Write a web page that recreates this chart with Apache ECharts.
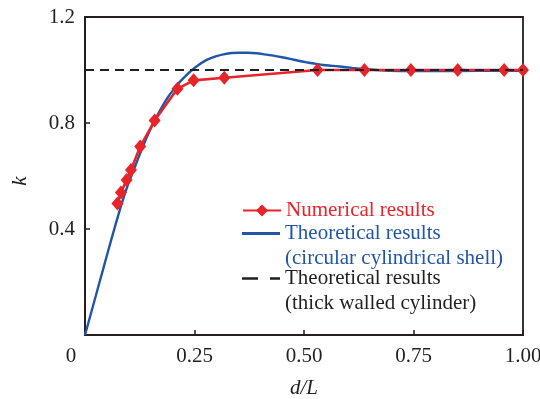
<!DOCTYPE html>
<html>
<head>
<meta charset="utf-8">
<script src="https://cdn.jsdelivr.net/npm/echarts@6/dist/echarts.min.js"></script>
<style>
html,body{margin:0;padding:0;background:#fff;}
#chart{width:540px;height:399px;}
</style>
</head>
<body>
<div id="chart"></div>
<script>
// ---- data ----
const numX = [0.074, 0.082, 0.095, 0.105, 0.126, 0.159, 0.211, 0.248, 0.318, 0.531, 0.638, 0.744, 0.851, 0.957, 1.0];
const numY = [0.496, 0.538, 0.585, 0.623, 0.711, 0.809, 0.929, 0.961, 0.971, 1.0, 1.0, 1.0, 1.0, 1.0, 1.0];

const shellX = [0, 0.02, 0.04, 0.06, 0.08, 0.09, 0.10, 0.114, 0.129, 0.142, 0.156, 0.172, 0.190, 0.205, 0.217, 0.23, 0.243, 0.26, 0.278, 0.30, 0.316, 0.335, 0.354, 0.372, 0.392, 0.41, 0.43, 0.45, 0.468, 0.487, 0.506, 0.525, 0.544, 0.563, 0.582, 0.61, 0.635, 0.665, 0.696, 0.75, 0.8, 0.9, 1.0];
const shellY = [0, 0.12, 0.24, 0.36, 0.475, 0.528, 0.576, 0.635, 0.698, 0.75, 0.799, 0.85, 0.899, 0.932, 0.956, 0.978, 0.998, 1.020, 1.038, 1.052, 1.059, 1.064, 1.065, 1.065, 1.063, 1.059, 1.054, 1.048, 1.042, 1.035, 1.029, 1.024, 1.019, 1.016, 1.013, 1.008, 1.004, 1.000, 0.997, 0.996, 0.996, 0.997, 0.997];

const thickX = [0, 1];
const thickY = [1, 1];

const xTickLabels = ['0', '0.25', '0.50', '0.75', '1.00'];
const yTickLabels = ['0', '0.4', '0.8', '1.2'];

const seriesNames = [
  'Numerical results',
  'Theoretical results\n(circular cylindrical shell)',
  'Theoretical results\n(thick walled cylinder)'
];

// ---- styling ----
const FONT = 'Liberation Serif';
const FS = 21;
const RED = '#e8232a';
const BLUE = '#2156a6';
const INK = '#231f20';

const zip = (xs, ys) => xs.map((x, i) => [x, ys[i]]);

const chart = echarts.init(document.getElementById('chart'), null, {renderer: 'canvas'});

const legendBase = {
  orient: 'vertical',
  left: 242,
  padding: 0,
  itemWidth: 38,
  selectedMode: false,
  symbolKeepAspect: false,
  textStyle: {fontFamily: FONT, fontSize: FS, lineHeight: 25}
};
// put an empty first line so the icon lines up with the first text line
const firstLineAligned = name => '\n' + name;

chart.setOption({
  animation: false,
  grid: {left: 85, right: 17, top: 17, bottom: 64, outerBoundsMode: 'none', containLabel: false,
         show: true, borderColor: INK, borderWidth: 1.8, backgroundColor: 'transparent'},
  xAxis: {
    type: 'value', min: 0, max: 1, interval: 0.25,
    name: 'd/L', nameLocation: 'middle', nameGap: 43,
    nameTextStyle: {fontFamily: FONT, fontSize: FS, fontStyle: 'italic', color: INK},
    axisLine: {show: true, lineStyle: {color: INK, width: 2}},
    axisTick: {show: true, inside: true, length: 5, lineStyle: {color: INK, width: 1.5}},
    splitLine: {show: false},
    axisLabel: {
      margin: 11, fontFamily: FONT, fontSize: FS, color: INK, hideOverlap: false,
      formatter: function (v) {
        const s = xTickLabels[Math.round(v / 0.25)];
        return v === 0 ? '{o|' + s + '}' : s;
      },
      rich: {o: {fontFamily: FONT, fontSize: FS, color: INK, padding: [0, 28, 0, 0]}}
    }
  },
  yAxis: {
    type: 'value', min: 0, max: 1.2, interval: 0.4,
    name: 'k', nameLocation: 'middle', nameGap: 54,
    nameTextStyle: {fontFamily: FONT, fontSize: FS, fontStyle: 'italic', color: INK, padding: [0, 10, 0, 0]},
    axisLine: {show: true, lineStyle: {color: INK, width: 2}},
    axisTick: {show: true, inside: true, length: 5, lineStyle: {color: INK, width: 1.5}},
    splitLine: {show: false},
    axisLabel: {
      margin: 10, fontFamily: FONT, fontSize: FS, color: INK, showMinLabel: false,
      formatter: function (v) { return yTickLabels[Math.round(v / 0.4)]; }
    }
  },
  legend: [
    Object.assign({}, legendBase, {
      top: 198, itemHeight: 15,
      data: [{name: seriesNames[0], textStyle: {color: RED}}]
    }),
    Object.assign({}, legendBase, {
      top: 196, itemHeight: 3, formatter: firstLineAligned,
      data: [{name: seriesNames[1], icon: 'rect', itemStyle: {color: BLUE},
              textStyle: {color: BLUE}}]
    }),
    Object.assign({}, legendBase, {
      top: 241, itemHeight: 2.5, formatter: firstLineAligned,
      data: [{name: seriesNames[2], icon: 'path://M0,0h16v2.5h-16z M28,0h10v2.5h-10z', itemStyle: {color: INK},
              textStyle: {color: INK}}]
    })
  ],
  series: [
    {
      name: seriesNames[1], type: 'line', data: zip(shellX, shellY),
      symbol: 'none', smooth: 0.3, z: 2,
      lineStyle: {color: BLUE, width: 2.4}, itemStyle: {color: BLUE}
    },
    {
      name: seriesNames[0], type: 'line', data: zip(numX, numY),
      symbol: 'diamond', symbolSize: [12, 14], z: 3,
      lineStyle: {color: RED, width: 2.6}, itemStyle: {color: RED}
    },
    {
      name: seriesNames[2], type: 'line', data: zip(thickX, thickY),
      symbol: 'none', z: 4,
      lineStyle: {color: INK, width: 2, type: [9, 6]}, itemStyle: {color: INK}
    }
  ]
});
</script>
</body>
</html>
